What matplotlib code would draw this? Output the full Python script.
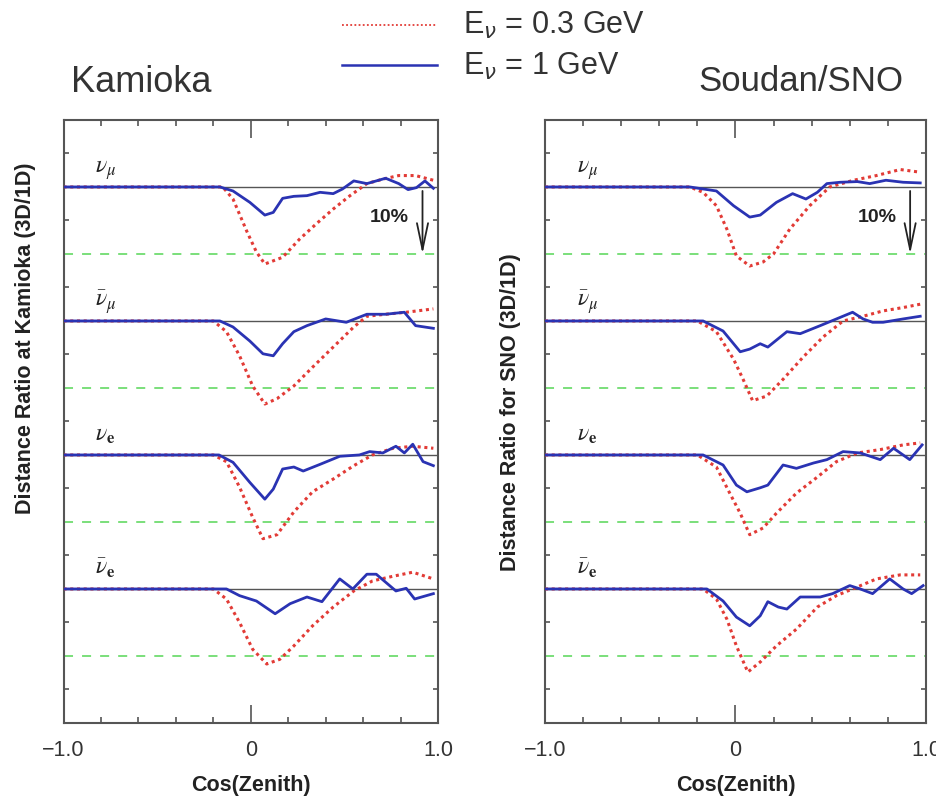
import matplotlib
matplotlib.use("Agg")
import matplotlib.pyplot as plt
import numpy as np

# (cos zenith, deviation of 3D/1D ratio in %) for each flavour, E = 0.3 GeV and 1 GeV
KAM_NUMU_03 = [(-1.0, 0.0), (-0.15, 0.0), (-0.095, -1.8), (-0.02, -6.7), (0.03, -9.7), (0.075, -11.5),
               (0.17, -10.5), (0.26, -7.8), (0.35, -5.5), (0.44, -3.3), (0.53, -1.3), (0.62, 0.5),
               (0.71, 1.2), (0.79, 1.7), (0.88, 1.7), (0.975, 1.0)]
KAM_NUMU_1 = [(-1.0, 0.0), (-0.165, 0.0), (-0.095, -0.6), (-0.005, -2.3), (0.075, -4.2), (0.12, -3.8),
              (0.17, -1.7), (0.23, -1.4), (0.3, -1.3), (0.37, -0.8), (0.44, -1.0), (0.49, -0.3),
              (0.55, 0.9), (0.62, 0.5), (0.72, 1.3), (0.79, 0.5), (0.84, -0.4), (0.885, -0.1),
              (0.93, 0.9), (0.975, -0.2)]
KAM_NUMUBAR_03 = [(-1.0, 0.0), (-0.2, 0.0), (-0.13, -1.6), (-0.06, -5.2), (0.01, -9.7), (0.075, -12.4),
                  (0.14, -11.6), (0.23, -9.7), (0.33, -6.9), (0.44, -3.9), (0.55, -0.9), (0.62, 0.7),
                  (0.72, 1.0), (0.83, 1.3), (0.975, 1.8)]
KAM_NUMUBAR_1 = [(-1.0, 0.0), (-0.165, 0.0), (-0.095, -0.9), (-0.005, -3.0), (0.065, -4.9), (0.12, -5.2),
                 (0.17, -3.4), (0.23, -1.6), (0.3, -0.7), (0.4, 0.3), (0.51, -0.2), (0.62, 1.0),
                 (0.72, 1.0), (0.82, 1.3), (0.88, -0.7), (0.975, -1.1)]
KAM_NUE_03 = [(-1.0, 0.0), (-0.2, 0.0), (-0.13, -1.0), (-0.06, -4.8), (0.01, -9.3), (0.065, -12.5),
              (0.14, -11.9), (0.23, -8.5), (0.33, -5.5), (0.44, -3.6), (0.55, -1.6), (0.65, 0.0),
              (0.76, 1.0), (0.865, 1.3), (0.975, 1.0)]
KAM_NUE_1 = [(-1.0, 0.0), (-0.17, 0.0), (-0.095, -1.1), (-0.005, -4.1), (0.075, -6.6), (0.12, -5.1),
             (0.17, -2.1), (0.23, -1.8), (0.28, -2.4), (0.37, -1.4), (0.475, -0.2), (0.58, 0.0),
             (0.635, 0.5), (0.705, 0.3), (0.775, 1.3), (0.82, 0.3), (0.865, 1.6), (0.92, -1.0),
             (0.975, -1.6)]
KAM_NUEBAR_03 = [(-1.0, 0.0), (-0.2, 0.0), (-0.13, -1.5), (-0.06, -5.0), (0.01, -9.0), (0.085, -11.2),
                 (0.155, -10.5), (0.23, -8.5), (0.33, -5.5), (0.44, -2.7), (0.55, -0.3), (0.65, 1.2),
                 (0.76, 1.9), (0.865, 2.5), (0.975, 1.5)]
KAM_NUEBAR_1 = [(-1.0, 0.0), (-0.13, 0.0), (-0.06, -1.0), (0.03, -1.8), (0.13, -3.7), (0.21, -2.2),
                (0.30, -1.2), (0.38, -1.9), (0.475, 1.5), (0.545, 0.0), (0.62, 2.2), (0.67, 2.2),
                (0.775, -0.3), (0.83, 0.1), (0.875, -1.5), (0.975, -0.7)]

SNO_NUMU_03 = [(-1.0, 0.0), (-0.24, 0.0), (-0.17, -0.8), (-0.1, -2.8), (-0.045, -6.3), (0.005, -10.3),
               (0.075, -11.8), (0.145, -11.2), (0.2, -10.0), (0.285, -6.3), (0.39, -2.8), (0.495, 0.0),
               (0.62, 1.0), (0.74, 1.7), (0.865, 2.6), (0.97, 2.2)]
SNO_NUMU_1 = [(-1.0, 0.0), (-0.24, 0.0), (-0.1, -0.6), (-0.01, -2.8), (0.075, -4.5), (0.13, -4.2),
              (0.215, -2.3), (0.3, -1.0), (0.37, -1.8), (0.43, -0.8), (0.48, 0.5), (0.55, 0.7),
              (0.64, 0.8), (0.705, 0.5), (0.79, 1.0), (0.88, 0.7), (0.97, 0.6)]
SNO_NUMUBAR_03 = [(-1.0, 0.0), (-0.2, 0.0), (-0.1, -1.6), (-0.01, -5.7), (0.04, -8.7), (0.09, -11.9),
                  (0.165, -11.2), (0.25, -8.7), (0.355, -5.4), (0.46, -2.4), (0.565, 0.0), (0.67, 0.7),
                  (0.775, 1.5), (0.88, 2.0), (0.97, 2.5)]
SNO_NUMUBAR_1 = [(-1.0, 0.0), (-0.17, 0.0), (-0.065, -1.5), (0.025, -4.6), (0.075, -4.2), (0.13, -3.4),
                 (0.17, -3.9), (0.27, -1.6), (0.34, -1.9), (0.445, -0.7), (0.53, 0.3), (0.615, 1.3),
                 (0.67, 0.3), (0.72, -0.2), (0.775, -0.2), (0.88, 0.3), (0.97, 0.7)]
SNO_NUE_03 = [(-1.0, 0.0), (-0.2, 0.0), (-0.1, -1.8), (-0.03, -5.7), (0.025, -8.7), (0.075, -11.9),
              (0.145, -10.9), (0.215, -8.7), (0.32, -5.7), (0.43, -3.3), (0.53, -1.0), (0.64, 0.3),
              (0.76, 0.8), (0.88, 1.5), (0.97, 1.8)]
SNO_NUE_1 = [(-1.0, 0.0), (-0.17, 0.0), (-0.065, -1.5), (0.005, -4.5), (0.06, -5.5), (0.13, -4.9),
             (0.17, -4.5), (0.25, -1.5), (0.32, -2.0), (0.41, -1.2), (0.48, -0.7), (0.565, 0.5),
             (0.655, 0.3), (0.76, -0.7), (0.83, 1.0), (0.915, -0.7), (0.98, 1.5)]
SNO_NUEBAR_03 = [(-1.0, 0.0), (-0.17, 0.0), (-0.1, -1.5), (-0.045, -4.5), (0.005, -8.5), (0.065, -12.4),
                 (0.13, -10.9), (0.215, -8.5), (0.32, -6.0), (0.43, -2.7), (0.53, -1.0), (0.64, 0.3),
                 (0.74, 1.5), (0.865, 2.1), (0.97, 2.1)]
SNO_NUEBAR_1 = [(-1.0, 0.0), (-0.15, 0.0), (-0.065, -1.8), (0.005, -4.2), (0.075, -5.5), (0.13, -4.0),
                (0.17, -1.9), (0.225, -2.7), (0.27, -3.0), (0.34, -1.2), (0.445, -1.2), (0.51, -0.7),
                (0.6, 0.5), (0.655, 0.0), (0.72, -0.7), (0.81, 1.5), (0.88, 0.0), (0.925, -0.7),
                (0.985, 0.5)]

FLAVOUR_LABELS = [r"$\nu_\mu$", r"$\bar{\nu}_\mu$", r"$\nu_\mathbf{e}$", r"$\bar{\nu}_\mathbf{e}$"]
OFFSETS = [0.0, -0.2, -0.4, -0.6]   # each flavour is stacked 20% below the previous one

RED = "#e23b36"
BLUE = "#2a33b3"
GREEN = "#6fdc6f"
GRAY = "#555555"
TEXT = "#222222"


def draw_panel(ax, curves_low, curves_high):
    for k, off in enumerate(OFFSETS):
        ax.axhline(off, color=GRAY, lw=1.0, zorder=1)
        ax.axhline(off - 0.10, color=GREEN, lw=1.3, ls=(0, (5, 5)), zorder=1)

        x, y = np.array(curves_low[k]).T
        ax.plot(x, off + y / 100.0, color=RED, lw=2.2, ls=(0, (1, 1.2)), zorder=3)
        x, y = np.array(curves_high[k]).T
        ax.plot(x, off + y / 100.0, color=BLUE, lw=2.0, zorder=4)

        ax.text(-0.83, off + 0.021, FLAVOUR_LABELS[k], fontsize=17, color=TEXT,
                math_fontfamily="stix", ha="left", va="baseline")

    # 10% scale marker on the top flavour
    ax.annotate("", xy=(0.917, -0.1), xytext=(0.917, -0.006),
                arrowprops=dict(arrowstyle="->,head_length=1.9,head_width=0.4",
                                lw=1.3, color=TEXT, shrinkA=0, shrinkB=0))
    ax.text(0.742, -0.045, "10%", fontsize=14, fontweight="bold", color=TEXT,
            ha="center", va="center")

    ax.set_xlim(-1.0, 1.0)
    ax.set_ylim(-0.8, 0.1)
    ax.set_xticks([-1.0, 0.0, 1.0])
    ax.set_xticklabels(["\u22121.0", "0", "1.0"])
    ax.set_xticks(np.arange(-0.8, 0.81, 0.2), minor=True)
    ax.set_yticks(np.arange(-0.75, 0.06, 0.1))
    ax.set_yticklabels([])
    ax.tick_params(axis="x", which="major", direction="in", length=13, width=1.2,
                   top=True, colors=GRAY, labelcolor="#333333", labelsize=15.5, pad=12)
    ax.tick_params(axis="x", which="minor", direction="in", length=4.5, width=1.2,
                   top=True, colors=GRAY)
    ax.tick_params(axis="y", direction="in", length=3.5, width=1.2, right=True, colors=GRAY)
    for sp in ax.spines.values():
        sp.set_color(GRAY)
        sp.set_linewidth(1.5)
    ax.set_xlabel("Cos(Zenith)", fontsize=15.5, fontweight="bold", color=TEXT, labelpad=10)


def main():
    plt.rcParams["font.family"] = ["Liberation Sans", "DejaVu Sans"]

    fig = plt.figure(figsize=(9.37, 7.97), dpi=100)
    ax_kam = fig.add_axes([0.0678, 0.0929, 0.3997, 0.7566])
    ax_sno = fig.add_axes([0.5816, 0.0929, 0.4066, 0.7566])

    draw_panel(ax_kam, [KAM_NUMU_03, KAM_NUMUBAR_03, KAM_NUE_03, KAM_NUEBAR_03],
               [KAM_NUMU_1, KAM_NUMUBAR_1, KAM_NUE_1, KAM_NUEBAR_1])
    draw_panel(ax_sno, [SNO_NUMU_03, SNO_NUMUBAR_03, SNO_NUE_03, SNO_NUEBAR_03],
               [SNO_NUMU_1, SNO_NUMUBAR_1, SNO_NUE_1, SNO_NUEBAR_1])

    fig.text(0.027, 0.576, "Distance Ratio at Kamioka (3D/1D)", rotation=90, fontsize=15.5,
             fontweight="bold", color=TEXT, ha="center", va="center")
    fig.text(0.545, 0.483, "Distance Ratio for SNO (3D/1D)", rotation=90, fontsize=15.5,
             fontweight="bold", color=TEXT, ha="center", va="center")

    fig.text(71 / 937, 1 - 92 / 797, "Kamioka", fontsize=26, color="#333333",
             ha="left", va="baseline")
    fig.text(698 / 937, 1 - 91 / 797, "Soudan/SNO", fontsize=25, color="#333333",
             ha="left", va="baseline")

    # legend drawn by hand above the panels
    fig.add_artist(plt.Line2D([342 / 937, 437 / 937], [1 - 25 / 797] * 2, color=RED, lw=1.3,
                              ls=(0, (1, 1.3))))
    fig.add_artist(plt.Line2D([342 / 937, 437 / 937], [1 - 65 / 797] * 2, color=BLUE, lw=1.8))
    fig.text(463 / 937, 1 - 25 / 797, r"E$_\nu$ = 0.3 GeV", fontsize=22, color="#333333",
             ha="left", va="center")
    fig.text(463 / 937, 1 - 66 / 797, r"E$_\nu$ = 1 GeV", fontsize=22, color="#333333",
             ha="left", va="center")

    fig.savefig("out.png", dpi=100, facecolor="white")


if __name__ == "__main__":
    main()
